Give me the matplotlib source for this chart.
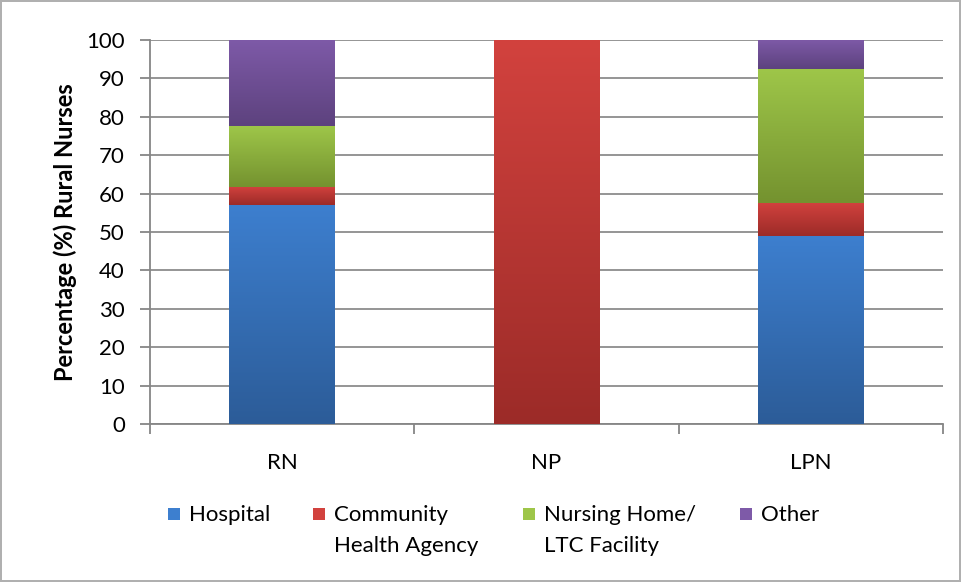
import numpy as np
import matplotlib.pyplot as plt
from matplotlib.colors import LinearSegmentedColormap
from matplotlib.patches import Rectangle

plt.rcParams['font.family'] = ['Lato', 'DejaVu Sans']

categorias = ['RN', 'NP', 'LPN']
series = ['Hospital', 'Community\nHealth Agency', 'Nursing Home/\nLTC Facility', 'Other']
hospital = [57.1, 0.0, 49.0]
community = [4.7, 100.0, 8.6]
nursing = [15.8, 0.0, 34.8]
other = [22.4, 0.0, 7.6]
valores = [hospital, community, nursing, other]

# (topo claro, base escura) de cada serie
cores = [('#3d7fcf', '#2c5c98'),
         ('#d2423e', '#9c2b28'),
         ('#9ec649', '#74922f'),
         ('#7e5aa8', '#5d427e')]

fs = 16

fig = plt.figure(figsize=(9.61, 5.82), dpi=100)
fig.patch.set_edgecolor('#b0b0b0')
fig.patch.set_linewidth(1.5)
ax = fig.add_axes([150 / 961, 1 - 424 / 582, 793 / 961, 384 / 582])

x = np.arange(len(categorias))
base = np.zeros(len(categorias))
gradiente = np.linspace(1, 0, 256).reshape(-1, 1)
for vals, (c_top, c_bot) in zip(valores, cores):
    barras = ax.bar(x, vals, width=0.4, bottom=base, color=c_top, zorder=3)
    cmap = LinearSegmentedColormap.from_list('g', [c_bot, c_top])
    for b in barras:
        if b.get_height() <= 0:
            continue
        x0, y0 = b.get_x(), b.get_y()
        im = ax.imshow(gradiente, cmap=cmap, aspect='auto', zorder=4,
                       extent=[x0, x0 + b.get_width(), y0, y0 + b.get_height()],
                       interpolation='bicubic')
        im.set_clip_path(b)
    base += np.array(vals)

ax.set_xlim(-0.5, 2.5)
ax.set_ylim(0, 100)
ax.set_yticks(np.arange(0, 101, 10))
ax.yaxis.grid(True, color='#8c8c8c', linewidth=1.3, zorder=0)
ax.set_axisbelow(True)

ax.set_xticks(x)
ax.set_xticklabels(categorias)
ax.set_xticks([-0.5, 0.5, 1.5, 2.5], minor=True)
ax.tick_params(axis='x', which='major', length=0, pad=21, labelsize=fs)
ax.tick_params(axis='x', which='minor', length=7, color='#868686', width=1.3)
ax.tick_params(axis='y', length=7, color='#868686', width=1.3, labelsize=fs, pad=11)

for s in ['top', 'right']:
    ax.spines[s].set_visible(False)
for s in ['left', 'bottom']:
    ax.spines[s].set_color('#868686')
    ax.spines[s].set_linewidth(1.3)

ax.set_ylabel('Percentage (%) Rural Nurses', fontsize=17, fontweight='bold', labelpad=7)

# legenda manual
posicoes = [168, 313, 523, 740]
for px, nome, (c_top, c_bot) in zip(posicoes, series, cores):
    fig.patches.append(Rectangle((px / 961, 1 - 520 / 582), 12 / 961, 12 / 582,
                                 transform=fig.transFigure, facecolor=c_top,
                                 edgecolor='none'))
    fig.text((px + 21) / 961, 1 - 505 / 582, nome, fontsize=fs, va='top',
             ha='left', linespacing=1.7)

plt.savefig('out.png', dpi=100)
